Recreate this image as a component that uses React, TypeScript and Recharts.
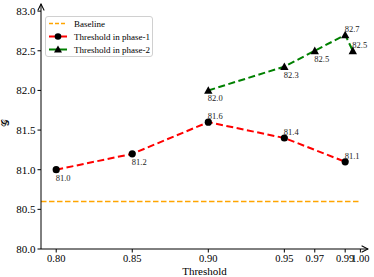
import React from "react";
import { LineChart, Line, XAxis, YAxis, ReferenceLine, LabelList } from "recharts";

const phase1X = [0.8, 0.85, 0.9, 0.95, 0.99];
const phase1Y = [81.0, 81.2, 81.6, 81.4, 81.1];
const phase1Place = ["below", "below", "above", "above", "above"];
const phase2X = [0.9, 0.95, 0.97, 0.99, 0.995];
const phase2Y = [82.0, 82.3, 82.5, 82.7, 82.5];
const phase2Place = ["below", "below", "below", "above", "above"];
const baselineValue = 80.6;
const xTicks = [0.8, 0.85, 0.9, 0.95, 0.97, 0.99, 1.0];
const yTicks = [80.0, 80.5, 81.0, 81.5, 82.0, 82.5, 83.0];

const phase1 = phase1X.map((x, i) => ({ x, y: phase1Y[i], place: phase1Place[i] }));
const phase2 = phase2X.map((x, i) => ({ x, y: phase2Y[i], place: phase2Place[i] }));

const FONT = "'Liberation Serif', 'DejaVu Serif', serif";

const CircleDot = (p: any) => {
  if (p.cx == null) return null;
  return <circle key={p.key} cx={p.cx} cy={p.cy} r={3.6} fill="#000" stroke="none" />;
};
const TriDot = (p: any) => {
  if (p.cx == null) return null;
  const s = 4.2;
  return (
    <path
      key={p.key}
      d={`M${p.cx},${p.cy - s} L${p.cx + s},${p.cy + s * 0.8} L${p.cx - s},${p.cy + s * 0.8} Z`}
      fill="#000"
    />
  );
};

const makeLabel = (data: any[]) => (p: any) => {
  const { x, y, index, value } = p;
  const place = data[index]?.place;
  const dy = place === "above" ? -3 : 11;
  return (
    <text x={x - 0.5} y={y + dy} fontSize={8.5} fontFamily={FONT} fill="#222" textAnchor="start">
      {Number(value).toFixed(1)}
    </text>
  );
};

const LegendBox = () => (
  <div
    style={{
      position: "absolute",
      left: 45,
      top: 16,
      width: 108,
      height: 41,
      border: "1px solid #d0d0d0",
      borderRadius: 3,
      background: "rgba(255,255,255,0.85)",
      boxSizing: "border-box",
    }}
  >
    <svg width={108} height={41} style={{ position: "absolute", left: -1, top: -1 }}>
      <line x1={4} x2={22} y1={7.5} y2={7.5} stroke="#FFA500" strokeWidth={1.5} strokeDasharray="4 2" />
      <line x1={4} x2={22} y1={20.5} y2={20.5} stroke="#FF0000" strokeWidth={2} />
      <circle cx={13} cy={20.5} r={3.3} fill="#000" />
      <line x1={4} x2={22} y1={33.5} y2={33.5} stroke="#008000" strokeWidth={2} />
      <path d="M13,29.5 L17,36.5 L9,36.5 Z" fill="#000" />
      <text x={29} y={10.5} fontSize={9} fontFamily={FONT}>Baseline</text>
      <text x={29} y={23.5} fontSize={9} fontFamily={FONT}>Threshold in phase-1</text>
      <text x={29} y={36.5} fontSize={9} fontFamily={FONT}>Threshold in phase-2</text>
    </svg>
  </div>
);

export default function App() {
  return (
    <div style={{ position: "absolute", left: 0, top: 0, width: 374, height: 277, background: "#fff" }}>
      <svg width={0} height={0} style={{ position: "absolute" }}>
        <defs>
          <marker
            id="axArrow"
            viewBox="0 0 10 10"
            refX={9}
            refY={5}
            markerWidth={8}
            markerHeight={8}
            markerUnits="userSpaceOnUse"
            orient="auto-start-reverse"
          >
            <path d="M1,1 L9,5 L1,9" fill="none" stroke="#000" strokeWidth={1.3} />
          </marker>
        </defs>
      </svg>
      <LineChart width={374} height={277} margin={{ top: 4, right: 6, bottom: 0, left: 0 }}>
        <XAxis
          dataKey="x"
          type="number"
          domain={[0.79, 1.005]}
          ticks={xTicks}
          interval={0}
          allowDataOverflow
          tickFormatter={(v: number) => v.toFixed(2)}
          axisLine={{ stroke: "#000", strokeWidth: 1, markerEnd: "url(#axArrow)" }}
          tickLine={{ stroke: "#000" }}
          tickSize={3.5}
          tick={{ fill: "#000", fontSize: 10.5, fontFamily: FONT }}
          height={28}
          label={{ value: "Threshold", position: "insideBottom", offset: 0, fill: "#000", fontSize: 11, fontFamily: FONT, dy: -2 }}
        />
        <YAxis
          type="number"
          domain={[80, 83.09]}
          ticks={yTicks}
          interval={0}
          allowDataOverflow
          tickFormatter={(v: number) => v.toFixed(1)}
          axisLine={{ stroke: "#000", strokeWidth: 1, markerStart: "url(#axArrow)" }}
          tickLine={{ stroke: "#000" }}
          tickSize={3.5}
          tick={{ fill: "#000", fontSize: 11, fontFamily: FONT }}
          width={41}
          label={{ value: "𝒢", angle: -90, position: "insideLeft", offset: 5, fill: "#000", fontSize: 11, fontFamily: FONT }}
        />
        <ReferenceLine
          segment={[{ x: 0.79, y: baselineValue }, { x: 1.0, y: baselineValue }]}
          stroke="#FFA500"
          strokeWidth={1.5}
          strokeDasharray="5.5 2.5"
          ifOverflow="visible"
        />
        <Line
          data={phase1}
          dataKey="y"
          stroke="#FF0000"
          strokeWidth={2}
          strokeDasharray="7 3.5"
          dot={<CircleDot />}
          isAnimationActive={false}
          legendType="none"
        >
          <LabelList dataKey="y" content={makeLabel(phase1)} />
        </Line>
        <Line
          data={phase2}
          dataKey="y"
          stroke="#008000"
          strokeWidth={2}
          strokeDasharray="7 3.5"
          dot={<TriDot />}
          isAnimationActive={false}
          legendType="none"
        >
          <LabelList dataKey="y" content={makeLabel(phase2)} />
        </Line>
      </LineChart>
      <LegendBox />
    </div>
  );
}
